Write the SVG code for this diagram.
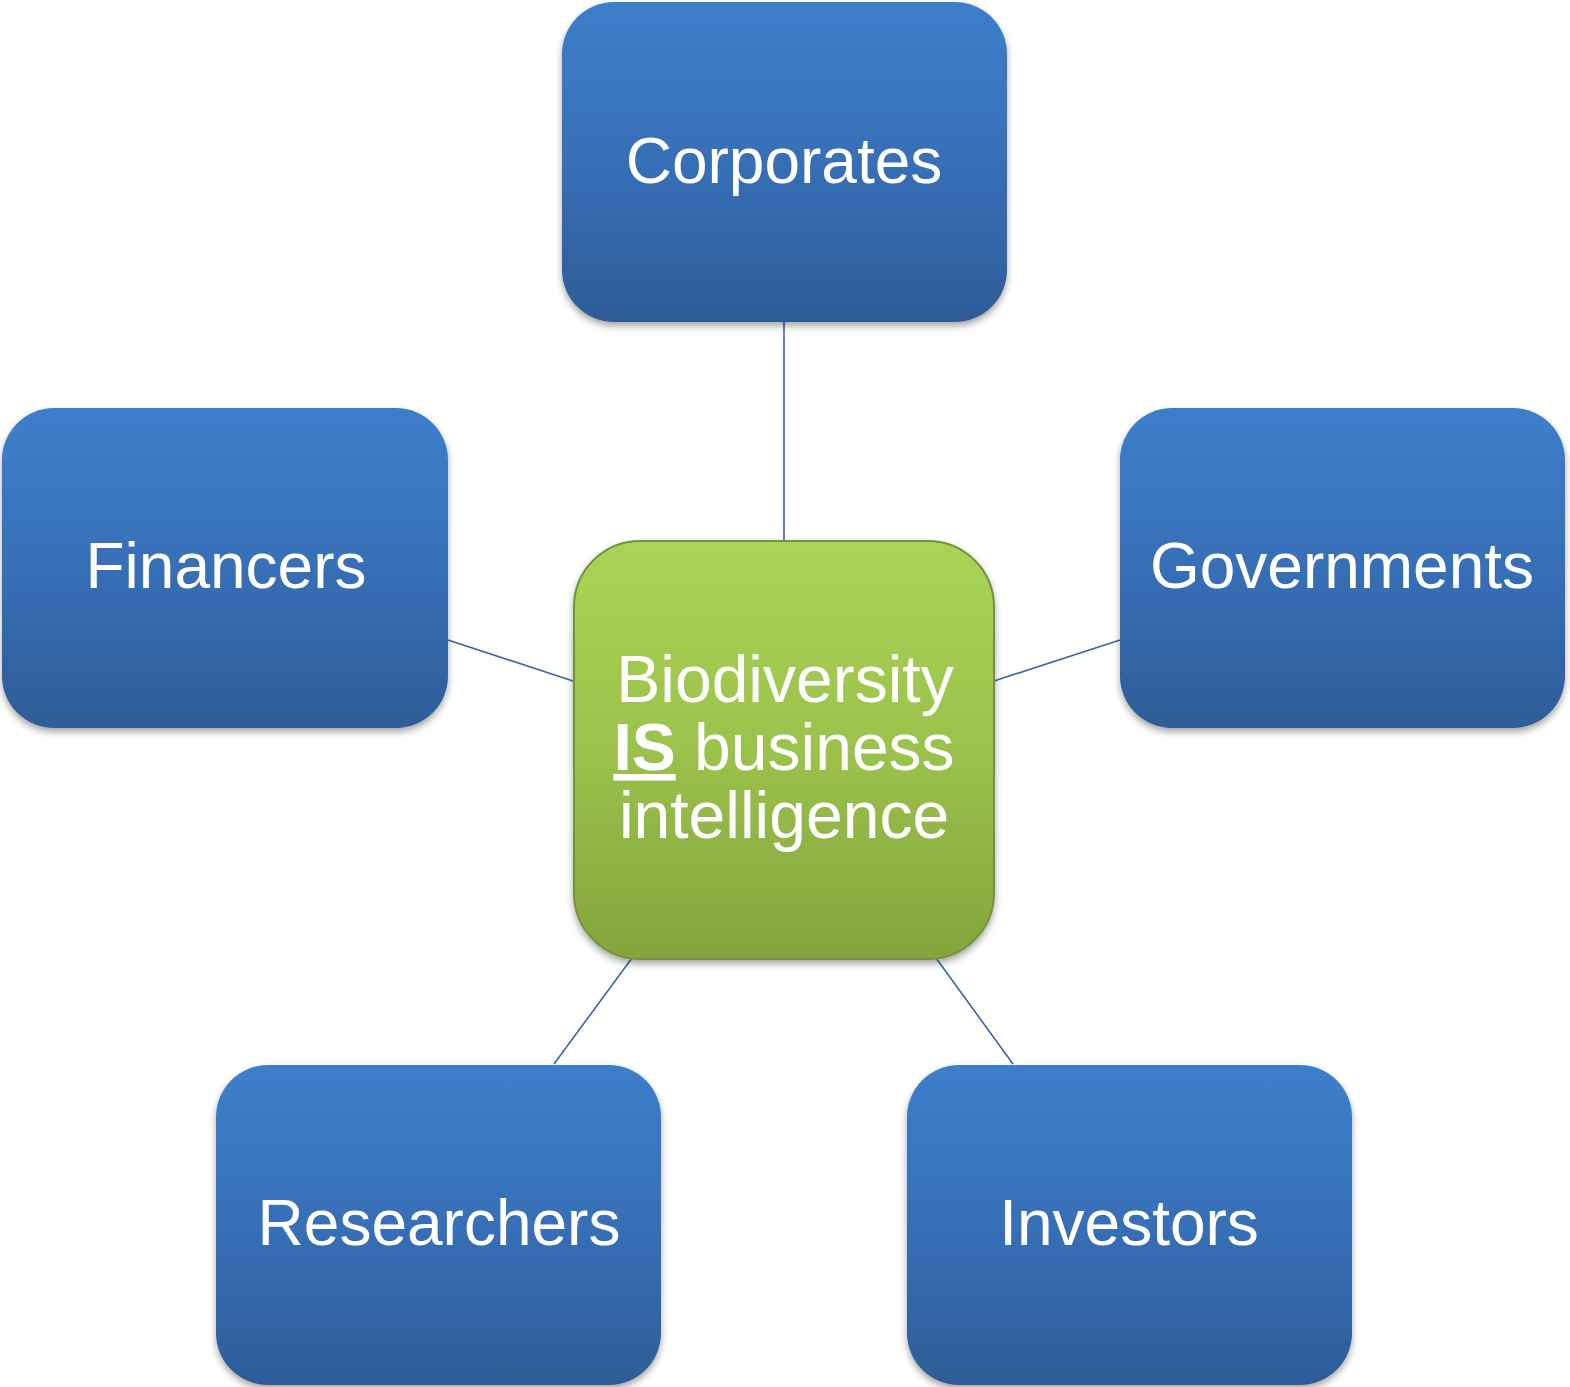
<svg xmlns="http://www.w3.org/2000/svg" width="1570" height="1387" viewBox="0 0 1570 1387">
<style>
.blue{fill:url(#gBlue);filter:url(#sh)}
.green{fill:url(#gGreen);stroke:#74933a;stroke-width:2;filter:url(#sh)}
.lbl{font-family:"Liberation Sans",Arial,sans-serif;font-size:64px;fill:#ffffff;text-anchor:middle}
.clbl{font-family:"Liberation Sans",Arial,sans-serif;font-size:66px;fill:#ffffff;text-anchor:middle}
.conn{stroke:#3b65a3;stroke-width:1.6;fill:none}
</style>
<defs>
<linearGradient id="gBlue" x1="0" y1="0" x2="0" y2="1">
<stop offset="0" stop-color="#3d7ecb"/>
<stop offset="0.5" stop-color="#376fb7"/>
<stop offset="1" stop-color="#2e5c97"/>
</linearGradient>
<linearGradient id="gGreen" x1="0" y1="0" x2="0" y2="1">
<stop offset="0" stop-color="#aad456"/>
<stop offset="0.5" stop-color="#9bc24c"/>
<stop offset="1" stop-color="#83a43c"/>
</linearGradient>
<filter id="sh" x="-10%" y="-10%" width="120%" height="125%">
<feDropShadow dx="0" dy="4" stdDeviation="3.5" flood-color="#000" flood-opacity="0.35"/>
</filter>
</defs>
<g id="connectors">
<line class="conn" x1="784" y1="322" x2="784" y2="540"/>
<line class="conn" x1="448" y1="640" x2="573" y2="681"/>
<line class="conn" x1="1120" y1="640" x2="994" y2="681"/>
<line class="conn" x1="554" y1="1064" x2="632" y2="958"/>
<line class="conn" x1="1013" y1="1064" x2="936" y2="958"/>
</g>
<g id="corporates">
<rect class="blue" x="562" y="2" width="445" height="320" rx="52" ry="52"/>
<text class="lbl" x="784" y="183">Corporates</text>
</g>
<g id="financers">
<rect class="blue" x="2" y="408" width="446" height="320" rx="52" ry="52"/>
<text class="lbl" x="226" y="588">Financers</text>
</g>
<g id="governments">
<rect class="blue" x="1120" y="408" width="445" height="320" rx="52" ry="52"/>
<text class="lbl" x="1342" y="588">Governments</text>
</g>
<g id="researchers">
<rect class="blue" x="216" y="1065" width="445" height="320" rx="52" ry="52"/>
<text class="lbl" x="439" y="1245">Researchers</text>
</g>
<g id="investors">
<rect class="blue" x="907" y="1065" width="445" height="320" rx="52" ry="52"/>
<text class="lbl" x="1129" y="1245">Investors</text>
</g>
<g id="center">
<rect class="green" x="574" y="541" width="420" height="418" rx="66" ry="66"/>
<text class="clbl" x="785" y="702">Biodiversity</text>
<text class="clbl" x="784" y="770"><tspan font-weight="bold" text-decoration="underline">IS</tspan> business</text>
<text class="clbl" x="784" y="838">intelligence</text>
</g>
</svg>
